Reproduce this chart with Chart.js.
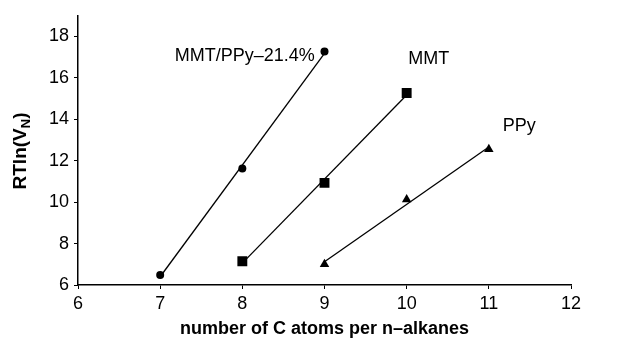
<!DOCTYPE html>
<html>
<head>
<meta charset="utf-8">
<script src="https://cdn.jsdelivr.net/npm/chart.js@4/dist/chart.umd.min.js"></script>
<style>
html,body{margin:0;padding:0;background:#fff;}
#wrap{width:630px;height:341px;position:relative;}
</style>
</head>
<body>
<div id="wrap"><canvas id="c" width="630" height="341"></canvas></div>
<script>
const xCompositeLabel = 'MMT/PPy–21.4%';
const xMMTLabel = 'MMT';
const xPPyLabel = 'PPy';
const compositeX = [7, 8, 9];
const compositeY = [6.48, 11.63, 17.27];
const mmtX = [8, 9, 10];
const mmtY = [7.15, 10.93, 15.27];
const ppyX = [9, 10, 11];
const ppyY = [7.0, 10.13, 12.55];
const xTicks = [6, 7, 8, 9, 10, 11, 12];
const yTicks = [6, 8, 10, 12, 14, 16, 18];
const xTitle = 'number of C atoms per n–alkanes';
const labelPos = [
  {text: xCompositeLabel, x: 8.03, y: 17.08},
  {text: xMMTLabel, x: 10.27, y: 16.9},
  {text: xPPyLabel, x: 11.37, y: 13.7}
];

function pts(xs, ys){ return xs.map((x,i)=>({x:x, y:ys[i]})); }
function fit(xs, ys){
  const n = xs.length;
  const mx = xs.reduce((a,b)=>a+b,0)/n, my = ys.reduce((a,b)=>a+b,0)/n;
  let sxy=0, sxx=0;
  for(let i=0;i<n;i++){ sxy+=(xs[i]-mx)*(ys[i]-my); sxx+=(xs[i]-mx)**2; }
  const b = sxy/sxx, a = my-b*mx;
  return [{x:xs[0], y:a+b*xs[0]}, {x:xs[n-1], y:a+b*xs[n-1]}];
}

const FONT = 'Liberation Sans, Arial, sans-serif';

const lineDs = (data) => ({type:'line', data, borderColor:'#000', borderWidth:1.3, pointRadius:0, showLine:true, fill:false});
const markDs = (data, style, r) => ({data, pointStyle:style, pointRadius:r, pointHoverRadius:r, backgroundColor:'#000', borderColor:'#000', borderWidth:0, showLine:false});

const labelsPlugin = {
  id:'labels',
  afterDatasetsDraw(chart){
    const ctx = chart.ctx, xs = chart.scales.x, ys = chart.scales.y;
    ctx.save();
    ctx.fillStyle = '#000';
    ctx.font = '18px ' + FONT;
    ctx.textAlign = 'center';
    ctx.textBaseline = 'middle';
    labelPos.forEach(l => ctx.fillText(l.text, xs.getPixelForValue(l.x), ys.getPixelForValue(l.y)));
    // y axis title with subscript
    ctx.translate(21, 151);
    ctx.rotate(-Math.PI/2);
    ctx.textAlign = 'left';
    ctx.textBaseline = 'middle';
    const big = 'bold 19px ' + FONT, small = 'bold 13px ' + FONT;
    ctx.font = big; const w1 = ctx.measureText('RTln(V').width;
    ctx.font = small; const w2 = ctx.measureText('N').width;
    ctx.font = big; const w3 = ctx.measureText(')').width;
    let x0 = -(w1+w2+w3)/2;
    ctx.font = big; ctx.fillText('RTln(V', x0, 0);
    ctx.font = small; ctx.fillText('N', x0+w1, 5);
    ctx.font = big; ctx.fillText(')', x0+w1+w2, 0);
    ctx.restore();
  }
};

new Chart(document.getElementById('c'), {
  type:'scatter',
  data:{ datasets:[
    lineDs(fit(compositeX, compositeY)),
    lineDs(fit(mmtX, mmtY)),
    lineDs(fit(ppyX, ppyY)),
    markDs(pts(compositeX, compositeY), 'circle', 4),
    markDs(pts(mmtX, mmtY), 'rect', 7),
    markDs(pts(ppyX, ppyY), 'triangle', 5.5)
  ]},
  options:{
    responsive:false, animation:false,
    devicePixelRatio:1,
    layout:{padding:{top:13, right:59, left:0, bottom:0}},
    plugins:{legend:{display:false}, tooltip:{enabled:false}},
    scales:{
      x:{
        type:'linear', min:6, max:12,
        afterBuildTicks(s){ s.ticks = xTicks.map(v=>({value:v})); },
        afterFit(s){ s.height = 56; },
        grid:{display:true, drawOnChartArea:false, drawTicks:true, tickLength:4, color:'#000', tickColor:'#000'},
        border:{display:true, color:'#000', width:1.5},
        ticks:{color:'#000', font:{size:18, family:FONT}, padding:4, maxRotation:0},
        title:{display:true, text:xTitle, color:'#000', font:{size:18, weight:'bold', family:FONT}, padding:{top:0,bottom:1}}
      },
      y:{
        type:'linear', min:6, max:19,
        afterBuildTicks(s){ s.ticks = yTicks.map(v=>({value:v})); },
        afterFit(s){ s.width = 78; },
        grid:{display:true, drawOnChartArea:false, drawTicks:true, tickLength:4, color:'#000', tickColor:'#000'},
        border:{display:true, color:'#000', width:1.5},
        ticks:{color:'#000', font:{size:18, family:FONT}, padding:5}
      }
    }
  },
  plugins:[labelsPlugin]
});
</script>
</body>
</html>
